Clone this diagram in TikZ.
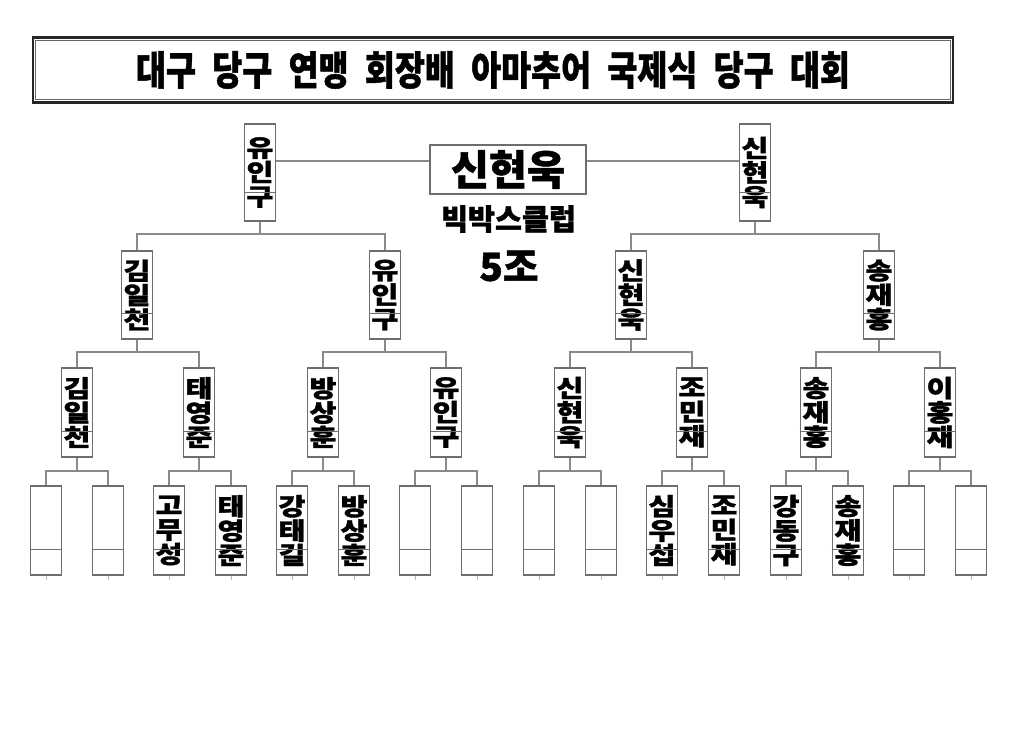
\documentclass[tikz,border=0pt]{standalone}
\usepackage{fontspec}
\newfontfamily\krb{Noto Sans CJK KR Black}[FakeBold=1.2]
\newfontfamily\krw{Noto Sans CJK KR Black}[FakeStretch=1.22, FakeBold=1.4]
\usetikzlibrary{calc}
\definecolor{linegray}{HTML}{8A8A8A}
\definecolor{boxgray}{HTML}{6E6E6E}
\newcommand\nm[3]{#1\\#2\\#3}
\tikzset{
  conn/.style={draw=linegray, line width=0.8pt},
  pbox/.style={draw=boxgray, line width=0.8pt, fill=white, inner sep=0pt,
    minimum width=23.25pt, minimum height=66.75pt, align=center,
    font=\krw\fontsize{18pt}{18.3pt}\selectfont},
  topbox/.style={pbox, minimum height=72.75pt},
  l2box/.style={pbox, minimum height=66pt},
}
\begin{document}
\begin{tikzpicture}[x=0.75pt,y=-0.75pt]
\fill[white] (0,0) rectangle (1024,746);
\useasboundingbox (0,0) rectangle (1024,746);
% title
\node[draw=black!85, line width=2pt, minimum width=690pt, minimum height=48.75pt, inner sep=0pt,
  font=\krb\fontsize{30pt}{32pt}\selectfont] (title) at (493,70)
  {\scalebox{0.815}[1]{대구\hspace{0.5em}당구\hspace{0.5em}연맹\hspace{0.5em}회장배\hspace{0.5em}아마추어\hspace{0.5em}국제식\hspace{0.5em}당구\hspace{0.5em}대회}};
\draw[black!60, line width=0.7pt] ([shift={(4,4)}]title.north west) rectangle ([shift={(-4,-4)}]title.south east);
% champion
\node[draw=boxgray, line width=0.8pt, minimum width=117pt, minimum height=36.75pt, inner sep=0pt,
  font=\krb\fontsize{31pt}{32pt}\selectfont] (champ) at (508,169.5) {신현욱};
\node[font=\krb\fontsize{22pt}{22pt}\selectfont, inner sep=0pt] (club) at (508.5,219) {빅박스클럽};
\node[font=\krb\fontsize{29pt}{30pt}\selectfont, inner sep=0pt] (grp) at (509,266) {5조};
% level 1
\node[topbox] (a1) at (260,172.5) {\nm{유}{인}{구}};
\node[topbox] (a2) at (755,172.5) {\nm{신}{현}{욱}};
% level 2
\node[l2box] (b1) at (137,295) {\nm{김}{일}{천}};
\node[l2box] (b2) at (385,295) {\nm{유}{인}{구}};
\node[l2box] (b3) at (631,295) {\nm{신}{현}{욱}};
\node[l2box] (b4) at (879,295) {\nm{송}{재}{홍}};
% level 3
\node[pbox] (c1) at (77,412.5) {\nm{김}{일}{천}};
\node[pbox] (c2) at (199,412.5) {\nm{태}{영}{준}};
\node[pbox] (c3) at (323,412.5) {\nm{방}{상}{훈}};
\node[pbox] (c4) at (446,412.5) {\nm{유}{인}{구}};
\node[pbox] (c5) at (570,412.5) {\nm{신}{현}{욱}};
\node[pbox] (c6) at (692,412.5) {\nm{조}{민}{재}};
\node[pbox] (c7) at (816,412.5) {\nm{송}{재}{홍}};
\node[pbox] (c8) at (940,412.5) {\nm{이}{홍}{재}};
% level 4
\node[pbox] (d1) at (46,530.5) {};
\node[pbox] (d2) at (108,530.5) {};
\node[pbox] (d3) at (169,530.5) {\nm{고}{무}{성}};
\node[pbox] (d4) at (231,530.5) {\nm{태}{영}{준}};
\node[pbox] (d5) at (292,530.5) {\nm{강}{태}{길}};
\node[pbox] (d6) at (354,530.5) {\nm{방}{상}{훈}};
\node[pbox] (d7) at (415,530.5) {};
\node[pbox] (d8) at (477,530.5) {};
\node[pbox] (d9) at (539,530.5) {};
\node[pbox] (d10) at (601,530.5) {};
\node[pbox] (d11) at (662,530.5) {\nm{심}{우}{섭}};
\node[pbox] (d12) at (724,530.5) {\nm{조}{민}{재}};
\node[pbox] (d13) at (786,530.5) {\nm{강}{동}{구}};
\node[pbox] (d14) at (848,530.5) {\nm{송}{재}{홍}};
\node[pbox] (d15) at (909,530.5) {};
\node[pbox] (d16) at (971,530.5) {};
% dividers inside boxes
\foreach \n in {a1,a2,b1,b2,b3,b4,c1,c2,c3,c4,c5,c6,c7,c8,d1,d2,d3,d4,d5,d6,d7,d8,d9,d10,d11,d12,d13,d14,d15,d16}
  \draw[draw=boxgray, line width=0.6pt] ($(\n.north west)!0.705!(\n.south west)$) -- ($(\n.north east)!0.705!(\n.south east)$);
% final connectors
\draw[conn] (a1.east |- 0,161) -- (champ.west |- 0,161);
\draw[conn] (champ.east |- 0,161) -- (a2.west |- 0,161);
% level 1 -> level 2
\draw[conn] (a1.south) -- (a1.south |- 0,234);
\draw[conn] (b1.north) -- (b1.north |- 0,234) -- (b2.north |- 0,234) -- (b2.north);
\draw[conn] (a2.south) -- (a2.south |- 0,234);
\draw[conn] (b3.north) -- (b3.north |- 0,234) -- (b4.north |- 0,234) -- (b4.north);
% level 2 -> level 3
\foreach \p/\l/\r in {b1/c1/c2, b2/c3/c4, b3/c5/c6, b4/c7/c8}{
  \draw[conn] (\p.south) -- (\p.south |- 0,352);
  \draw[conn] (\l.north) -- (\l.north |- 0,352) -- (\r.north |- 0,352) -- (\r.north);
}
% level 3 -> level 4
\foreach \p/\l/\r in {c1/d1/d2, c2/d3/d4, c3/d5/d6, c4/d7/d8, c5/d9/d10, c6/d11/d12, c7/d13/d14, c8/d15/d16}{
  \draw[conn] (\p.south) -- (\p.south |- 0,471);
  \draw[conn] (\l.north) -- (\l.north |- 0,471) -- (\r.north |- 0,471) -- (\r.north);
}
% small ticks below first-round boxes
\foreach \n in {d1,d2,d3,d4,d5,d6,d7,d8,d9,d10,d11,d12,d13,d14,d15,d16}
  \draw[draw=linegray!60, line width=0.6pt] (\n.south) -- ++(0,4);
\end{tikzpicture}
\end{document}
